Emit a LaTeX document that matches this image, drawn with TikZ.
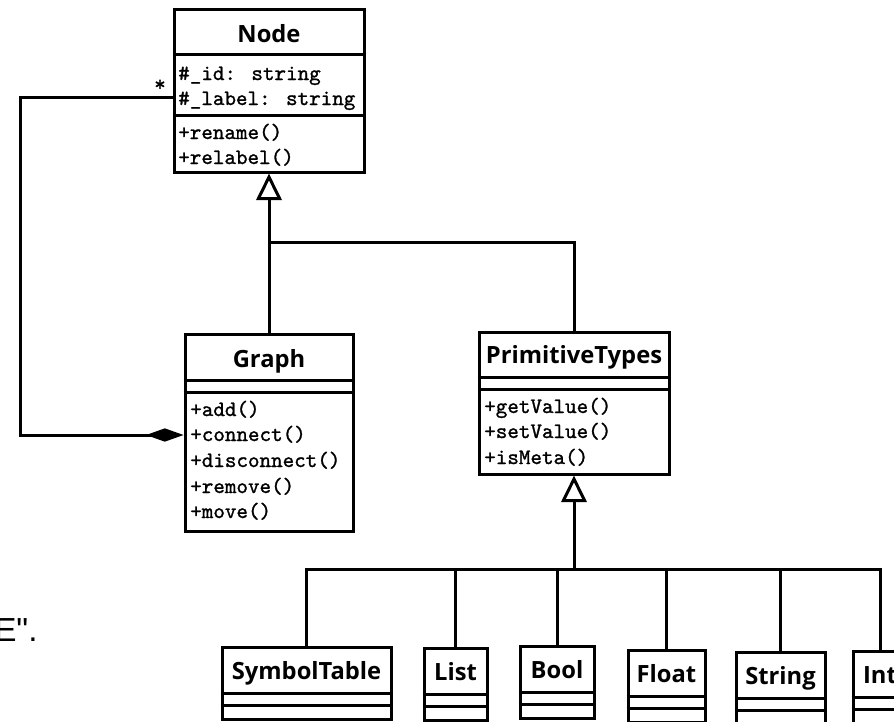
\documentclass[tikz,border=0pt]{standalone}
\usepackage{fontspec}
\newfontfamily\titlefont{Open Sans}
\newfontfamily\notefont{Liberation Sans}
\newfontfamily\memberfont{lmmono10-regular}[Extension=.otf, FakeBold=1.2]
\usetikzlibrary{arrows.meta,fit}
\begin{document}
\begin{tikzpicture}[x=0.75pt,y=-0.75pt,
  classbox/.style={draw, line width=2.25pt, inner sep=0pt},
  divider/.style={line width=2.25pt},
  title/.style={font=\titlefont\bfseries\fontsize{17.8pt}{20pt}\selectfont, inner sep=0pt, anchor=base},
  member/.style={font=\memberfont\fontsize{16.5pt}{20pt}\selectfont, inner sep=0pt, anchor=base west},
  conn/.style={line width=2.25pt},
  inherit/.style={conn, -{Triangle[open, length=20pt, width=19pt]}},
  compose/.style={conn, -{Diamond[length=28pt, width=10pt]}},
]
\useasboundingbox (0,0) rectangle (894,722);
\clip (0,0) rectangle (894,722);
\fill[white] (0,0) rectangle (894,722);

% ---- Node ----
\node[classbox, fit={(174,9) (364,172)}] (nodeC) {};
\draw[divider] (nodeC.west |- 0,54) -- (nodeC.east |- 0,54);
\draw[divider] (nodeC.west |- 0,115) -- (nodeC.east |- 0,115);
\node[title] (nodeT) at (269,42) {Node};
\node[member] (nodeA1) at (178,80) {\#\_id: string};
\node[member] (nodeA2) at (178,105) {\#\_label: string};
\node[member] (nodeM1) at (178,139) {+rename()};
\node[member] (nodeM2) at (178,164) {+relabel()};

% ---- Graph ----
\node[classbox, fit={(185,334) (353,531)}] (graph) {};
\draw[divider] (graph.west |- 0,380) -- (graph.east |- 0,380);
\draw[divider] (graph.west |- 0,392) -- (graph.east |- 0,392);
\node[title] (graphT) at (269,367) {Graph};
\node[member] (graphM1) at (190,416) {+add()};
\node[member] (graphM2) at (190,441) {+connect()};
\node[member] (graphM3) at (190,467) {+disconnect()};
\node[member] (graphM4) at (190,493) {+remove()};
\node[member] (graphM5) at (190,518) {+move()};

% ---- PrimitiveTypes ----
\node[classbox, fit={(479,332) (669,474)}] (prim) {};
\draw[divider] (prim.west |- 0,377) -- (prim.east |- 0,377);
\draw[divider] (prim.west |- 0,389) -- (prim.east |- 0,389);
\node[title] (primT) at (574,363) {PrimitiveTypes};
\node[member] (primM1) at (484,413) {+getValue()};
\node[member] (primM2) at (484,438) {+setValue()};
\node[member] (primM3) at (484,464) {+isMeta()};

% ---- concrete types ----
\foreach \name/\lbl/\xa/\xb/\top in {
    symtab/SymbolTable/222/391/647,
    list/List/424/487/648,
    bool/Bool/520/594/646,
    float/Float/628/705/650,
    string/String/736/825/652,
    int/Int/853/907/651} {
  \node[classbox, fit={(\xa,\top) (\xb,\top+72)}] (\name) {};
  \draw[divider] (\name.west |- 0,\top+46) -- (\name.east |- 0,\top+46);
  \draw[divider] (\name.west |- 0,\top+58) -- (\name.east |- 0,\top+58);
  \node[title] (\name T) at (\name.north |- 0,\top+32) {\lbl};
}

% ---- inheritance ----
\coordinate (split) at (graph.north |- 0,242);
\draw[inherit] (graph.north) -- (nodeC.south);
\draw[conn] (prim.north) |- (split);
\coordinate (bus) at (prim.south |- 0,569);
\draw[inherit] (bus) -- (prim.south);
\foreach \name in {symtab,list,bool,float,string,int}
  \draw[conn] (\name.north) |- (bus);

% ---- composition ----
\coordinate (loopA) at (20,97);
\coordinate (loopB) at (20,435);
\draw[compose] (nodeC.west |- loopA) -- (loopA) -- (loopB) -- (graph.west |- loopB);
\node[member, anchor=base] (mult) at (160,91) {*};

% ---- stray note text ----
\node[font=\notefont\fontsize{25pt}{30pt}\selectfont, anchor=base west, inner sep=0pt] (note) at (-6,641) {E".};
\end{tikzpicture}
\end{document}
